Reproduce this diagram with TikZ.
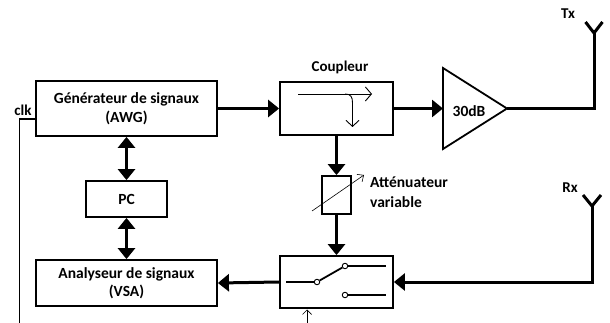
\documentclass[tikz,border=0pt]{standalone}
\usepackage{fontspec}
\setmainfont{Carlito}
\usetikzlibrary{arrows.meta}
\tikzset{
  x=1pt,y=-1pt,
  box/.style={draw=black,line width=1.8pt,fill=white,inner sep=0pt,align=center,font=\bfseries\fontsize{15.5}{18.5}\selectfont},
  lbl/.style={inner sep=0pt,align=left,font=\bfseries\fontsize{15.5}{20}\selectfont},
  smalllbl/.style={inner sep=0pt,font=\bfseries\fontsize{15}{17}\selectfont},
  wire/.style={line width=3pt},
  flow/.style={wire,-{Triangle[length=11pt,width=17pt]}},
  biflow/.style={wire,{Triangle[length=11pt,width=17pt]}-{Triangle[length=11pt,width=17pt]}},
  thin arrow/.style={line width=0.9pt,-{Straight Barb[length=5pt,width=10pt,line width=0.9pt]}},
  contact/.style={circle,draw=black,line width=0.9pt,fill=white,minimum size=5.5pt,inner sep=0pt},
}
\begin{document}
\begin{tikzpicture}
\useasboundingbox (0,0) rectangle (610,323);
% boxes
\node[box,minimum width=181pt,minimum height=55pt] (awg) at (126.5,108.5) {Générateur de signaux\\(AWG)};
\node[box,minimum width=81pt,minimum height=36pt] (pc) at (126.5,199) {PC};
\node[box,minimum width=181pt,minimum height=46pt] (vsa) at (126.5,283) {Analyseur de signaux\\(VSA)};
\node[box,minimum width=113pt,minimum height=53pt] (coup) at (336.5,108.5) {};
\node[smalllbl] (couplbl) at (340,67) {Coupleur};
\node[box,minimum width=29pt,minimum height=38pt] (att) at (336.5,195) {};
\node[lbl,anchor=west] (attlbl) at (370,192) {Atténuateur\\variable};
\node[box,minimum width=113pt,minimum height=52pt] (sw) at (336.5,282) {};
% amplifier
\coordinate (ampa) at (443,68);
\coordinate (ampb) at (443,149);
\coordinate (ampc) at (507,108.5);
\draw[line width=1.8pt,line join=miter,fill=white] (ampa) -- (ampc) -- (ampb) -- cycle;
\node[lbl] (amplbl) at (469,111) {30dB};
% main connectors
\draw[flow] (awg.east) -- (coup.west);
\coordinate (ampin) at (443,108.5);
\draw[flow] (coup.east) -- (ampin);
\draw[flow] (coup.south) -- (att.north);
\draw[flow] (att.south) -- (sw.north);
\draw[flow] (sw.west) -- (vsa.east);
\draw[biflow] (awg.south) -- (pc.north);
\draw[biflow] (pc.south) -- (vsa.north);
% Tx
\coordinate (txj) at (594,33);
\coordinate (txl) at (585.5,22);
\coordinate (txr) at (602.5,22);
\draw[wire,line join=miter] (ampc) -- (594,108.5) -- (txj);
\draw[wire] (txl) -- (txj) -- (txr);
\node[smalllbl] (tx) at (568,13.5) {Tx};
% Rx
\coordinate (rxj) at (592,206);
\coordinate (rxl) at (583,195);
\coordinate (rxr) at (601,195);
\draw[flow] (rxj) -- (592,282) -- (sw.east);
\draw[wire] (rxl) -- (rxj) -- (rxr);
\node[smalllbl] (rx) at (570,188) {Rx};
% clk
\node[smalllbl] (clk) at (23,110) {clk};
\coordinate (clkend) at (19.5,323);
\draw[line width=1.3pt] (36,119) -- (19.5,119) -- (clkend);
% coupler inner arrows
\coordinate (cs) at (298,94);
\coordinate (ce) at (372,94);
\coordinate (cd) at (352.5,127);
\draw[thin arrow,-{Straight Barb[length=6pt,width=14pt,line width=0.9pt]}] (cs) -- (ce);
\draw[thin arrow,-{Straight Barb[length=6pt,width=13pt,line width=0.9pt]}] (345,94) .. controls (351,94) and (352.5,97) .. (352.5,103) -- (cd);
% attenuator arrow
\coordinate (as) at (312,211);
\coordinate (ae) at (364,175);
\draw[line width=0.6pt,-{Straight Barb[length=5pt,width=9pt,line width=0.6pt]}] (as) -- (ae);
% switch
\node[contact] (c0) at (317,282) {};
\node[contact] (c1) at (345,266) {};
\node[contact] (c2) at (345,295) {};
\coordinate (s0) at (286,282);
\coordinate (s1) at (386,266);
\coordinate (s2) at (386,295);
\draw[line width=2.2pt] (s0) -- (c0);
\draw[line width=1.8pt] (c0) -- (c1);
\draw[line width=2.2pt] (c1) -- (s1);
\draw[line width=2.2pt] (c2) -- (s2);
\coordinate (ctl) at (307,323);
\coordinate (ctltop) at (307,309.5);
\draw[line width=0.7pt,-{Straight Barb[length=4.5pt,width=9pt,line width=0.7pt]}] (ctl) -- (ctltop);
\end{tikzpicture}
\end{document}
